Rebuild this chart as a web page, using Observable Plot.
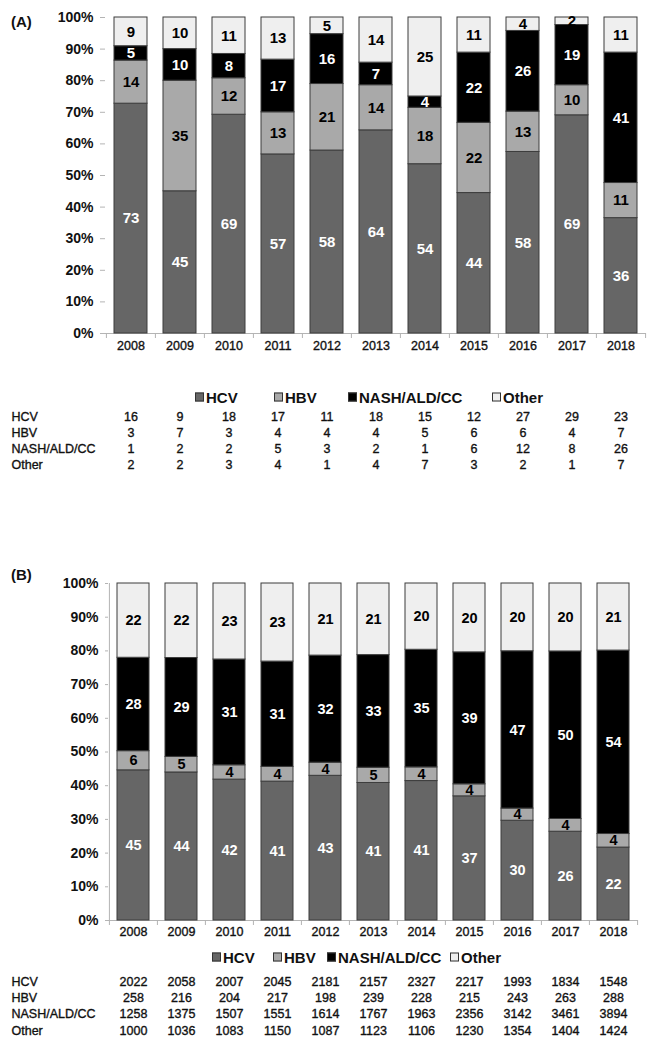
<!DOCTYPE html>
<html>
<head>
<meta charset="utf-8">
<script src="https://cdn.jsdelivr.net/npm/d3@7"></script>
<script src="https://cdn.jsdelivr.net/npm/@observablehq/plot@0.6"></script>
<style>
  body { margin: 0; background: #ffffff; font-family: "Liberation Sans", Arial, sans-serif; }
  #root { position: relative; width: 655px; height: 1050px; overflow: hidden; }
  .panel { position: absolute; left: 0; }
  .plabel { position: absolute; font-weight: bold; font-size: 15px; color: #111; }
  .leg { position: absolute; display: flex; align-items: center; font-weight: bold; font-size: 15px; color: #111; transform: translateY(-50%); white-space: nowrap; }
  .sw { display: inline-block; width: 7px; height: 7px; border: 1px solid #333; margin-right: 2px; }
  g[aria-label="y-axis tick label"] text { font-weight: bold; }
  g[aria-label="x-axis tick label"] text { stroke: #111; stroke-width: 0.35px; }
</style>
</head>
<body>
<div id="root">
  <div class="plabel" style="left:11px;top:13px">(A)</div>
  <div class="plabel" style="left:11px;top:566px">(B)</div>
  <div id="panelA" class="panel" style="top:0px"></div>
  <div id="panelB" class="panel" style="top:560px"></div>
</div>
<script>
// ---- data ----
const years = ["2008","2009","2010","2011","2012","2013","2014","2015","2016","2017","2018"];
const cats = ["HCV","HBV","NASH/ALD/CC","Other"];
const catColors = ["#666666","#a9a9a9","#000000","#efefef"];

// Panel A: counts (table) and printed percentages (bar labels)
const hcvA   = [16, 9, 18, 17, 11, 18, 15, 12, 27, 29, 23];
const hbvA   = [3, 7, 3, 4, 4, 4, 5, 6, 6, 4, 7];
const nashA  = [1, 2, 2, 5, 3, 2, 1, 6, 12, 8, 26];
const otherA = [2, 2, 3, 4, 1, 4, 7, 3, 2, 1, 7];
const hcvPctA   = [73, 45, 69, 57, 58, 64, 54, 44, 58, 69, 36];
const hbvPctA   = [14, 35, 12, 13, 21, 14, 18, 22, 13, 10, 11];
const nashPctA  = [5, 10, 8, 17, 16, 7, 4, 22, 26, 19, 41];
const otherPctA = [9, 10, 11, 13, 5, 14, 25, 11, 4, 2, 11];

// Panel B
const hcvB   = [2022, 2058, 2007, 2045, 2181, 2157, 2327, 2217, 1993, 1834, 1548];
const hbvB   = [258, 216, 204, 217, 198, 239, 228, 215, 243, 263, 288];
const nashB  = [1258, 1375, 1507, 1551, 1614, 1767, 1963, 2356, 3142, 3461, 3894];
const otherB = [1000, 1036, 1083, 1150, 1087, 1123, 1106, 1230, 1354, 1404, 1424];
const hcvPctB   = [45, 44, 42, 41, 43, 41, 41, 37, 30, 26, 22];
const hbvPctB   = [6, 5, 4, 4, 4, 5, 4, 4, 4, 4, 4];
const nashPctB  = [28, 29, 31, 31, 32, 33, 35, 39, 47, 50, 54];
const otherPctB = [22, 22, 23, 23, 21, 21, 20, 20, 20, 20, 21];

const yTicks = [0, 0.1, 0.2, 0.3, 0.4, 0.5, 0.6, 0.7, 0.8, 0.9, 1];
const whiteCats = new Set(["HCV", "NASH/ALD/CC"]);
const FONT = '"Liberation Sans", Arial, sans-serif';

function panel(cfg) {
  const {counts, pcts, height, mt, mb, ml, mr, tickSize, yLine, labelSize, yearPad, rowDy} = cfg;
  const W = 655;
  const data = [];
  cats.forEach((c, ci) => years.forEach((y, yi) =>
    data.push({year: y, cat: c, count: counts[ci][yi], pct: pcts[ci][yi]})));
  const step = (W - ml - mr) / years.length;
  const frameH = height - mt - mb;
  const axisStroke = "#b4b4b4";
  const tableText = {fontSize: 12.5, fill: "#111", stroke: "#111", strokeWidth: 0.35};
  const marks = [
    Plot.ruleY([0], {stroke: axisStroke}),
    Plot.ruleX(years, {x: d => d, dx: -step / 2, insetTop: frameH, insetBottom: -5, stroke: axisStroke}),
    Plot.ruleX([years[years.length - 1]], {x: d => d, dx: step / 2, insetTop: frameH, insetBottom: -5, stroke: axisStroke}),
  ];
  if (yLine) marks.push(Plot.ruleX([years[0]], {x: d => d, dx: -step / 2, stroke: axisStroke}));
  marks.push(
    Plot.barY(data, {x: "year", y: "count", fill: "cat", offset: "normalize", stroke: "#3c3c3c", strokeWidth: 1}),
    Plot.text(data, Plot.stackY({x: "year", y: "count", z: "cat", offset: "normalize",
      text: d => whiteCats.has(d.cat) ? String(d.pct) : "", fill: "#ffffff", fontWeight: "bold", fontSize: labelSize})),
    Plot.text(data, Plot.stackY({x: "year", y: "count", z: "cat", offset: "normalize",
      text: d => whiteCats.has(d.cat) ? "" : String(d.pct), fill: "#000000", fontWeight: "bold", fontSize: labelSize})),
    Plot.axisY({ticks: yTicks, tickFormat: d => Math.round(d * 100) + "%", tickSize, tickPadding: 7,
      fontSize: 14, fontWeight: "bold", stroke: axisStroke, fill: "#111", label: null}),
    Plot.axisX({tickSize: 0, tickPadding: yearPad, fontSize: 12.5, fill: "#111", label: null})
  );
  cats.forEach((c, ci) => {
    const rows = data.filter(d => d.cat === c);
    marks.push(
      Plot.text(rows, {x: "year", text: d => String(d.count), frameAnchor: "bottom", dy: rowDy[ci], ...tableText}),
      Plot.text([c], {text: d => d, frameAnchor: "bottom-left", textAnchor: "start", dx: 11 - ml, dy: rowDy[ci], ...tableText})
    );
  });
  return Plot.plot({
    width: W, height,
    marginTop: mt, marginBottom: mb, marginLeft: ml, marginRight: mr,
    style: {fontFamily: FONT, background: "transparent", overflow: "visible"},
    x: {type: "band", domain: years, paddingInner: 0.33, paddingOuter: 0.165, axis: null},
    y: {domain: [0, 1], axis: null},
    color: {domain: cats, range: catColors},
    marks
  });
}

document.getElementById("panelA").appendChild(panel({
  counts: [hcvA, hbvA, nashA, otherA], pcts: [hcvPctA, hbvPctA, nashPctA, otherPctA],
  height: 480, mt: 17, mb: 147, ml: 105, mr: 9, tickSize: 5, yLine: false, labelSize: 15, yearPad: 8,
  rowDy: [87, 103.5, 119.5, 135]
}));
document.getElementById("panelB").appendChild(panel({
  counts: [hcvB, hbvB, nashB, otherB], pcts: [hcvPctB, hbvPctB, nashPctB, otherPctB],
  height: 490, mt: 23, mb: 130, ml: 108, mr: 17, tickSize: 3, yLine: true, labelSize: 14.5, yearPad: 7,
  rowDy: [65, 81, 97, 114]
}));

// legends (HTML, above/below the SVGs)
function legend(items, top) {
  const root = document.getElementById("root");
  items.forEach(([left, ci]) => {
    const el = document.createElement("div");
    el.className = "leg";
    el.style.left = left + "px";
    el.style.top = top + "px";
    const sw = document.createElement("span");
    sw.className = "sw";
    sw.style.background = catColors[ci];
    el.appendChild(sw);
    el.appendChild(document.createTextNode(cats[ci]));
    root.appendChild(el);
  });
}
legend([[195, 0], [274, 1], [348, 2], [492, 3]], 397);
legend([[212, 0], [273, 1], [327, 2], [450, 3]], 957);
</script>
</body>
</html>
